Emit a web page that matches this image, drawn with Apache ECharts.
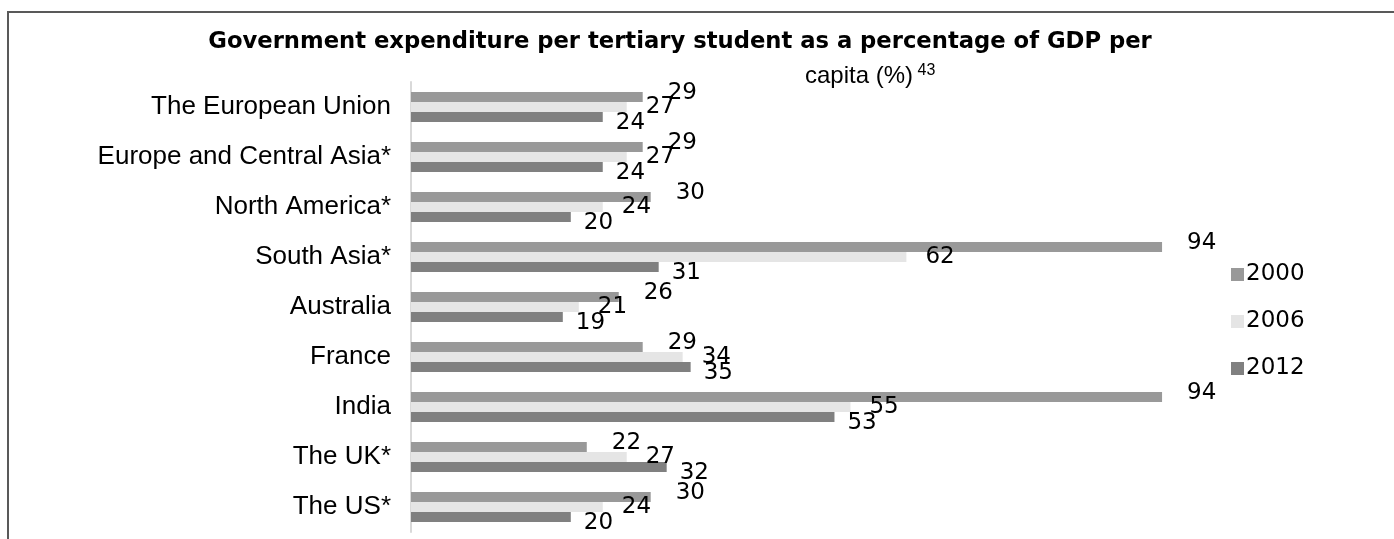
<!DOCTYPE html>
<html>
<head>
<meta charset="utf-8">
<script src="https://cdn.jsdelivr.net/npm/echarts@6/dist/echarts.min.js"></script>
<style>
  html, body { margin: 0; padding: 0; background: #fff; }
  #main { width: 1394px; height: 539px; }
</style>
</head>
<body>
<div id="main"></div>
<script>
// categories, top to bottom
const regions = ['The European Union', 'Europe and Central Asia*', 'North America*', 'South Asia*',
  'Australia', 'France', 'India', 'The UK*', 'The US*']
const years = ['2000', '2006', '2012']
const v2000 = [29, 29, 30, 94, 26, 29, 94, 22, 30]
const v2006 = [27, 27, 24, 62, 21, 34, 55, 27, 24]
const v2012 = [24, 24, 20, 31, 19, 35, 53, 32, 20]

const colors = ['#999999', '#e5e5e5', '#808080']
const font = 'Liberation Sans, Arial, sans-serif'
const numFont = 'DejaVu Sans, sans-serif'

function makeSeries (name, data, color, offset) {
  return {
    name: name,
    type: 'bar',
    data: data,
    barWidth: 10,
    barGap: '0%',
    itemStyle: { color: color },
    label: {
      show: true,
      position: 'right',
      offset: offset,
      color: '#000',
      fontFamily: numFont,
      fontSize: 23
    }
  }
}

const myChart = echarts.init(document.getElementById('main'))
const option = {
  animation: false,
  backgroundColor: '#fff',
  title: [
    {
      text: 'Government expenditure per tertiary student as a percentage of GDP per',
      left: 675,
      top: 26,
      textAlign: 'center',
      textStyle: { fontFamily: numFont, fontWeight: 'bold', fontSize: 22.7, color: '#000' }
    },
    {
      text: '{a|capita (%)}{b| 43}',
      left: 800,
      top: 58,
      textStyle: {
        rich: {
          a: { fontFamily: font, fontWeight: 'normal', fontSize: 24, color: '#000' },
          b: { fontFamily: font, fontWeight: 'normal', fontSize: 16, color: '#000', verticalAlign: 'top', padding: [0, 0, 10, 0] }
        }
      }
    }
  ],
  legend: {
    data: years,
    orient: 'vertical',
    left: 1226,
    top: 258,
    itemWidth: 13,
    itemHeight: 13,
    itemGap: 24,
    icon: 'rect',
    textStyle: { fontFamily: numFont, fontSize: 23, color: '#000', padding: [0, 0, 0, -3] }
  },
  grid: {
    left: 411,
    right: 184,
    top: 82,
    bottom: 7,
    containLabel: false
  },
  xAxis: {
    type: 'value',
    min: 0,
    max: 100,
    show: false
  },
  yAxis: {
    type: 'category',
    data: regions,
    inverse: true,
    axisLine: { show: true, lineStyle: { color: '#d9d9d9', width: 2 } },
    axisTick: { show: false },
    axisLabel: { color: '#000', fontFamily: font, fontSize: 26, margin: 20 }
  },
  graphic: [
    {
      type: 'rect',
      shape: { x: 8, y: 12, width: 1400, height: 600 },
      style: { fill: 'none', stroke: '#595959', lineWidth: 2 },
      silent: true
    }
  ],
  series: [
    makeSeries('2000', v2000, colors[0], [20, -4]),
    makeSeries('2006', v2006, colors[1], [14, 0]),
    makeSeries('2012', v2012, colors[2], [8, 6])
  ]
}
myChart.setOption(option)
</script>
</body>
</html>
